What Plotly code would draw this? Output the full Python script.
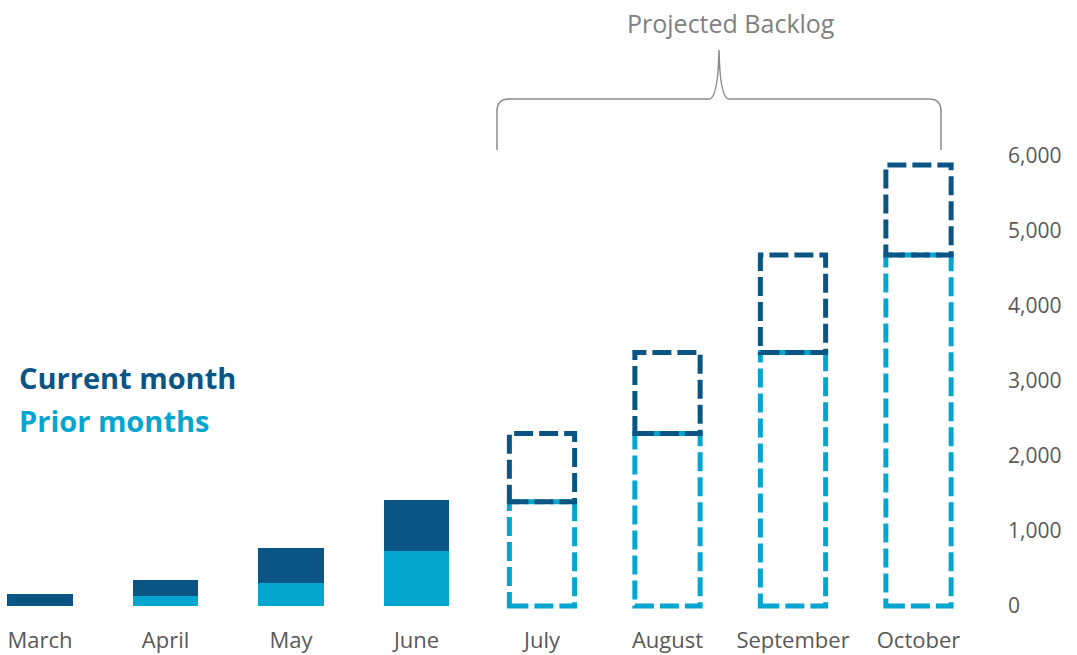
import plotly.graph_objects as go

months = ["March", "April", "May", "June", "July", "August", "September", "October"]
prior_months = [0, 134, 307, 735, 1390, 2300, 3380, 4680]
current_month = [160, 214, 468, 682, 910, 1080, 1300, 1200]
projected = [False, False, False, False, True, True, True, True]
y_ticks = [0, 1000, 2000, 3000, 4000, 5000, 6000]

DARK = "#0B5585"
CYAN = "#04A6D0"
GRAY = "#595959"

W, H = 1077, 655

px_left, px_right = 0, 1000
px_top, px_bottom = 8, 623
x0_px, x_step = 40, 125.5
y0_px, y_step = 606, 0.075  # px per unit

xr = [(px_left - x0_px) / x_step, (px_right - x0_px) / x_step]
yr = [-(px_bottom - y0_px) / y_step, (y0_px - px_top) / y_step]

def dx(p):
    return (p - x0_px) / x_step

def dy(p):
    return (y0_px - p) / y_step

bar_w = 0.52
xs = list(range(len(months)))

fig = go.Figure()

solid_x = [x for x, p in zip(xs, projected) if not p]
fig.add_trace(go.Bar(
    x=solid_x, y=[prior_months[i] for i in solid_x], width=bar_w,
    marker=dict(color=CYAN, line=dict(width=0)), name="Prior months",
    hoverinfo="skip"))
fig.add_trace(go.Bar(
    x=solid_x, y=[current_month[i] for i in solid_x], width=bar_w,
    marker=dict(color=DARK, line=dict(width=0)), name="Current month",
    hoverinfo="skip"))

shapes = []
for i in xs:
    if not projected[i]:
        continue
    shapes.append(dict(type="rect", xref="x", yref="y",
                       x0=i - bar_w / 2, x1=i + bar_w / 2, y0=0, y1=prior_months[i],
                       line=dict(color=CYAN, width=5, dash="19px,6px"),
                       fillcolor="rgba(0,0,0,0)"))
for i in xs:
    if not projected[i]:
        continue
    base = prior_months[i]
    top = prior_months[i] + current_month[i]
    shapes.append(dict(type="rect", xref="x", yref="y",
                       x0=i - bar_w / 2, x1=i + bar_w / 2, y0=base, y1=top,
                       line=dict(color=DARK, width=5, dash="19px,6px"),
                       fillcolor="rgba(0,0,0,0)"))

# bracket over projected months
bl, br, bm = 497, 941, 719
yb, yh, ya = 150, 99, 50
path = (
    f"M {dx(bl)},{dy(yb)} L {dx(bl)},{dy(yh + 12)} "
    f"Q {dx(bl)},{dy(yh)} {dx(bl + 12)},{dy(yh)} "
    f"L {dx(bm - 10)},{dy(yh)} "
    f"Q {dx(bm - 1)},{dy(yh)} {dx(bm)},{dy(ya)} "
    f"Q {dx(bm + 1)},{dy(yh)} {dx(bm + 10)},{dy(yh)} "
    f"L {dx(br - 12)},{dy(yh)} "
    f"Q {dx(br)},{dy(yh)} {dx(br)},{dy(yh + 12)} "
    f"L {dx(br)},{dy(yb)}"
)
shapes.append(dict(type="path", xref="x", yref="y", path=path,
                   line=dict(color="#8C8C8C", width=1.5)))

annotations = [
    dict(text="Projected Backlog", x=dx(731), y=dy(23), xref="x", yref="y",
         showarrow=False, font=dict(size=25, color="#808080", family="Open Sans")),
    dict(text="<b>Current month</b>", x=dx(17), y=dy(377), xref="x", yref="y",
         xanchor="left", showarrow=False,
         font=dict(size=29, color=DARK, family="Open Sans")),
    dict(text="<b>Prior months</b>", x=dx(17), y=dy(420), xref="x", yref="y",
         xanchor="left", showarrow=False,
         font=dict(size=29, color=CYAN, family="Open Sans")),
]

fig.update_layout(
    width=W, height=H,
    margin=dict(l=px_left, r=W - px_right, t=px_top, b=H - px_bottom, autoexpand=False),
    barmode="stack",
    paper_bgcolor="white", plot_bgcolor="white",
    showlegend=False,
    shapes=shapes, annotations=annotations,
    font=dict(family="Open Sans", color=GRAY),
    xaxis=dict(range=xr, tickvals=xs, ticktext=months, showgrid=False,
               zeroline=False, showline=False, ticks="", automargin=False,
               ticklabeloverflow="allow",
               tickfont=dict(size=22, color=GRAY), ticklabelstandoff=2),
    yaxis=dict(range=yr, side="right", tickvals=y_ticks,
               ticktext=[f"{v:,}" for v in y_ticks], showgrid=False,
               zeroline=False, showline=False, ticks="", automargin=False,
               ticklabeloverflow="allow",
               tickfont=dict(size=21, color=GRAY), ticklabelstandoff=7),
)

fig.write_html("out.html", config={"displayModeBar": False},
               post_script="document.body.style.margin='0';document.body.style.overflow='hidden';")
